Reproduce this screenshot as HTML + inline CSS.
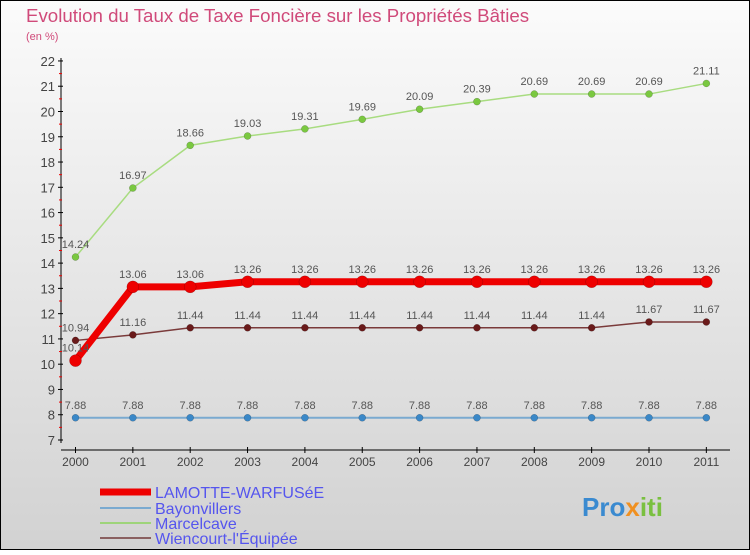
<!DOCTYPE html>
<html><head><meta charset="utf-8"><style>
html,body{margin:0;padding:0}
body{width:750px;height:550px;overflow:hidden;font-family:"Liberation Sans",sans-serif}
</style></head><body>
<svg width="750" height="550" xmlns="http://www.w3.org/2000/svg" id="svg">
<defs><linearGradient id="bg" x1="0" y1="0" x2="0" y2="1"><stop offset="0" stop-color="#fbfbfb"/><stop offset="1" stop-color="#d2d2d2"/></linearGradient></defs>
<rect x="0.5" y="0.5" width="749" height="549" fill="url(#bg)" stroke="#000"/>
<text x="26" y="22" font-size="18.7" fill="#d04a7a">Evolution du Taux de Taxe Foncière sur les Propriétés Bâties</text>
<text x="26" y="40" font-size="11" fill="#d04a7a">(en %)</text>
<g id="axes"></g><g id="series"></g>
<g font-size="16" fill="#5555ee">
<line x1="100" y1="492" x2="151" y2="492" stroke="#ee0000" stroke-width="7"/>
<text x="155" y="498">LAMOTTE-WARFUSéE</text>
<line x1="100" y1="508" x2="151" y2="508" stroke="#7aaad0" stroke-width="2"/>
<text x="155" y="514">Bayonvillers</text>
<line x1="100" y1="523" x2="151" y2="523" stroke="#9ed47a" stroke-width="2"/>
<text x="155" y="529">Marcelcave</text>
<line x1="100" y1="538" x2="151" y2="538" stroke="#8a6060" stroke-width="2"/>
<text x="155" y="544">Wiencourt-l'Équipée</text>
</g>
<text x="582" y="516" font-size="26" font-weight="bold" fill="#3a8ad0">Pro<tspan fill="#f09020">x</tspan><tspan fill="#7ac040">iti</tspan></text>
</svg>
<script>
const years=["2000","2001","2002","2003","2004","2005","2006","2007","2008","2009","2010","2011"];
const yTicks=[7,8,9,10,11,12,13,14,15,16,17,18,19,20,21,22];
const lamotte=[10.14,13.06,13.06,13.26,13.26,13.26,13.26,13.26,13.26,13.26,13.26,13.26];
const bayonvillers=[7.88,7.88,7.88,7.88,7.88,7.88,7.88,7.88,7.88,7.88,7.88,7.88];
const marcelcave=[14.24,16.97,18.66,19.03,19.31,19.69,20.09,20.39,20.69,20.69,20.69,21.11];
const wiencourt=[10.94,11.16,11.44,11.44,11.44,11.44,11.44,11.44,11.44,11.44,11.67,11.67];
const NS="http://www.w3.org/2000/svg";
const X=i=>75.5+i*57.35, Y=v=>440-(v-7)*25.27;
function mk(t,a,p){const e=document.createElementNS(NS,t);for(const k in a)e.setAttribute(k,a[k]);p.appendChild(e);return e;}
const ax=document.getElementById('axes'), sg=document.getElementById('series');
let l=mk('line',{x1:61,y1:58,x2:61,y2:443,stroke:'#000'},ax);


l=mk('line',{x1:61,y1:450,x2:730,y2:450,stroke:'#000'},ax);


yTicks.forEach(v=>{mk('line',{x1:58,x2:63,y1:Y(v),y2:Y(v),stroke:'#000'},ax);
 if(v<22)mk('line',{x1:59,x2:62,y1:Y(v+0.5),y2:Y(v+0.5),stroke:'#e00'},ax);
 const t=mk('text',{x:55,y:Y(v)+5,'text-anchor':'end','font-size':13,fill:'#444'},ax);t.textContent=v;
 
 });
years.forEach((y,i)=>{mk('line',{x1:X(i),x2:X(i),y1:447,y2:453,stroke:'#000'},ax);
 const t=mk('text',{x:X(i),y:466,'text-anchor':'middle','font-size':12,fill:'#444'},ax);t.textContent=y;
 
 });
function series(d,name,color,w,r,fill,lbl){
 const g=mk('g',{},sg);
 
 
 mk('polyline',{points:d.map((v,i)=>X(i)+','+Y(v)).join(' '),fill:'none',stroke:color,'stroke-width':w},g);
 d.forEach((v,i)=>{const c=mk('circle',{cx:X(i),cy:Y(v),r:r,fill:fill,stroke:'rgba(0,0,0,0.3)','stroke-width':0.5},g);
  
  
  const t=mk('text',{x:X(i),y:Y(v)-9,'text-anchor':'middle','font-size':11,fill:'#555'},g);t.textContent=lbl(v);
  
  });
}
const f=v=>(Math.round(v*100)/100).toString();
series(bayonvillers,'bayonvillers-series','#7aaad0',2,3.5,'#3a88c8',f);
series(marcelcave,'marcelcave-series','#a8dc80',1.5,3.5,'#7ac840',f);
series(wiencourt,'wiencourt-series','#7a3a3a',1.5,3.5,'#6a1a1a',f);
series(lamotte,'lamotte-series','#ee0000',7,6,'#ee0000',f);
</script>
</body></html>
